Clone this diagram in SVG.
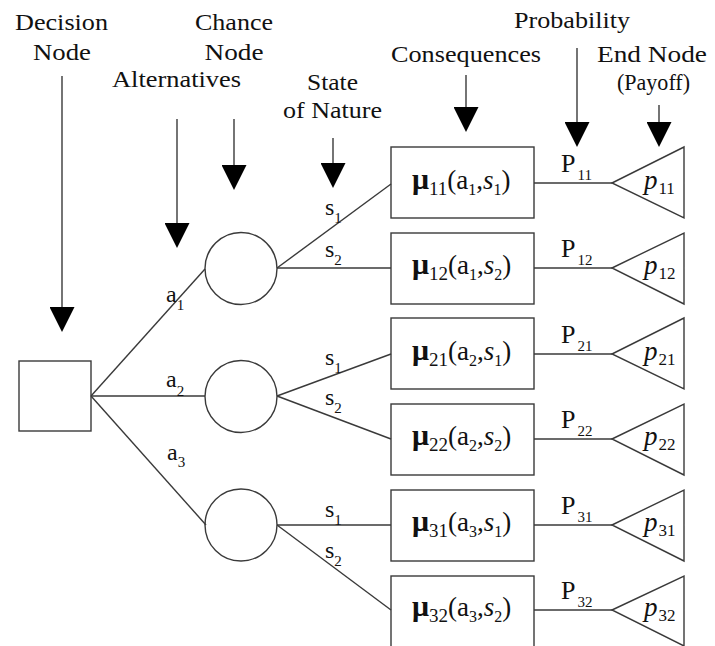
<svg xmlns="http://www.w3.org/2000/svg" width="715" height="646" viewBox="0 0 715 646">
<defs>
  <marker id="arrowhead-down" markerUnits="userSpaceOnUse" markerWidth="25" markerHeight="25" refX="0" refY="12.5" orient="auto" viewBox="0 0 25 25">
    <path d="M0,0 L25,12.5 L0,25 Z" fill="#000"/>
  </marker>
</defs>
<rect x="0" y="0" width="715" height="646" fill="#ffffff"/>

<g id="nodes" stroke="#3a3a3a" stroke-width="1.4" fill="#fff">
  <g id="decision-node"><rect x="19" y="361" width="72" height="70"/></g>
  <g id="chance-node-1"><circle cx="241" cy="268.5" r="36"/></g>
  <g id="chance-node-2"><circle cx="241" cy="396.5" r="36"/></g>
  <g id="chance-node-3"><circle cx="241" cy="525" r="36"/></g>
  <g id="consequence-11"><rect x="391" y="147" width="143" height="71"/></g>
  <g id="consequence-12"><rect x="391" y="233" width="143" height="71"/></g>
  <g id="consequence-21"><rect x="391" y="318" width="143" height="71"/></g>
  <g id="consequence-22"><rect x="391" y="404" width="143" height="71"/></g>
  <g id="consequence-31"><rect x="391" y="490" width="143" height="71"/></g>
  <g id="consequence-32"><rect x="391" y="576" width="143" height="71"/></g>
  <g id="end-node-11"><polygon points="612,183 684,147 684,218"/></g>
  <g id="end-node-12"><polygon points="612,268 684,233 684,304"/></g>
  <g id="end-node-21"><polygon points="612,354 684,318 684,389"/></g>
  <g id="end-node-22"><polygon points="612,439 684,404 684,475"/></g>
  <g id="end-node-31"><polygon points="612,525 684,490 684,561"/></g>
  <g id="end-node-32"><polygon points="612,610 684,576 684,646"/></g>
</g>

<g id="connectors" stroke="#3a3a3a" stroke-width="1.4" fill="none">
  <path d="M91,396 L205,269"/>
  <path d="M91,396 L205,396"/>
  <path d="M91,396 L206,525"/>
  <path d="M277,268 L391,184"/>
  <path d="M277,268 L391,268"/>
  <path d="M277,396 L391,354"/>
  <path d="M277,396 L391,439"/>
  <path d="M277,525 L391,525"/>
  <path d="M277,525 L391,610"/>
  <path d="M534,183 L612,183"/>
  <path d="M534,268 L612,268"/>
  <path d="M534,354 L612,354"/>
  <path d="M534,439 L612,439"/>
  <path d="M534,525 L612,525"/>
  <path d="M534,610 L612,610"/>
</g>

<g id="pointers" stroke="#3a3a3a" stroke-width="1.4" fill="none">
  <path d="M62,76 V307" marker-end="url(#arrowhead-down)"/>
  <path d="M177,119 V223" marker-end="url(#arrowhead-down)"/>
  <path d="M234,119 V165" marker-end="url(#arrowhead-down)"/>
  <path d="M333,138 V163" marker-end="url(#arrowhead-down)"/>
  <path d="M466,75 V107" marker-end="url(#arrowhead-down)"/>
  <path d="M577,48 V122" marker-end="url(#arrowhead-down)"/>
  <path d="M659,105 V122" marker-end="url(#arrowhead-down)"/>
</g>

<g id="pointer-labels" fill="#111" text-anchor="middle">
  <text font-family="Liberation Serif" font-size="23" x="61.5" y="30" textLength="93" lengthAdjust="spacingAndGlyphs">Decision</text>
  <text font-family="Liberation Serif" font-size="23" x="62" y="60" textLength="58" lengthAdjust="spacingAndGlyphs">Node</text>
  <text font-family="Liberation Serif" font-size="23" x="234" y="30" textLength="78" lengthAdjust="spacingAndGlyphs">Chance</text>
  <text font-family="Liberation Serif" font-size="23" x="234" y="60" textLength="59" lengthAdjust="spacingAndGlyphs">Node</text>
  <text font-family="Liberation Serif" font-size="23" x="176.5" y="87" textLength="129" lengthAdjust="spacingAndGlyphs">Alternatives</text>
  <text font-family="Liberation Serif" font-size="23" x="332.5" y="90" textLength="51" lengthAdjust="spacingAndGlyphs">State</text>
  <text font-family="Liberation Serif" font-size="23" x="332.5" y="118" textLength="99" lengthAdjust="spacingAndGlyphs">of Nature</text>
  <text font-family="Liberation Serif" font-size="23" x="466" y="62" textLength="150" lengthAdjust="spacingAndGlyphs">Consequences</text>
  <text font-family="Liberation Serif" font-size="23" x="572" y="28" textLength="116" lengthAdjust="spacingAndGlyphs">Probability</text>
  <text font-family="Liberation Serif" font-size="23" x="652" y="62" textLength="110" lengthAdjust="spacingAndGlyphs">End Node</text>
  <text font-family="Liberation Serif" font-size="23" x="653.5" y="90" textLength="73" lengthAdjust="spacingAndGlyphs">(Payoff)</text>
</g>

<g id="branch-labels" fill="#111">
  <text font-family="Liberation Serif" font-size="24" x="166" y="302">a<tspan font-size="15" dy="8">1</tspan></text>
  <text font-family="Liberation Serif" font-size="24" x="166" y="387">a<tspan font-size="15" dy="9">2</tspan></text>
  <text font-family="Liberation Serif" font-size="24" x="167" y="460">a<tspan font-size="15" dy="7">3</tspan></text>
  <text font-family="Liberation Serif" font-size="24" x="325" y="215">s<tspan font-size="15" dy="8">1</tspan></text>
  <text font-family="Liberation Serif" font-size="24" x="325" y="257">s<tspan font-size="15" dy="8">2</tspan></text>
  <text font-family="Liberation Serif" font-size="24" x="325" y="365">s<tspan font-size="15" dy="8">1</tspan></text>
  <text font-family="Liberation Serif" font-size="24" x="325" y="405">s<tspan font-size="15" dy="8">2</tspan></text>
  <text font-family="Liberation Serif" font-size="24" x="325" y="517">s<tspan font-size="15" dy="8">1</tspan></text>
  <text font-family="Liberation Serif" font-size="24" x="325" y="558">s<tspan font-size="15" dy="8">2</tspan></text>
  <text font-family="Liberation Serif" font-size="26" x="561" y="172">P<tspan font-size="15" dx="2" dy="8">11</tspan></text>
  <text font-family="Liberation Serif" font-size="26" x="561" y="257">P<tspan font-size="15" dx="2" dy="8">12</tspan></text>
  <text font-family="Liberation Serif" font-size="26" x="561" y="343">P<tspan font-size="15" dx="2" dy="8">21</tspan></text>
  <text font-family="Liberation Serif" font-size="26" x="561" y="428">P<tspan font-size="15" dx="2" dy="8">22</tspan></text>
  <text font-family="Liberation Serif" font-size="26" x="561" y="514">P<tspan font-size="15" dx="2" dy="8">31</tspan></text>
  <text font-family="Liberation Serif" font-size="26" x="561" y="599">P<tspan font-size="15" dx="2" dy="8">32</tspan></text>
</g>

<g id="consequence-labels" fill="#111">
  <text font-family="Liberation Serif" font-size="27" x="412" y="189"><tspan font-size="30" font-weight="bold">μ</tspan><tspan font-size="19" dy="6">11</tspan><tspan dy="-6">(a</tspan><tspan font-size="16" dy="6">1</tspan><tspan dy="-6">,</tspan><tspan font-style="italic">s</tspan><tspan font-size="16" dy="6">1</tspan><tspan dy="-6">)</tspan></text>
  <text font-family="Liberation Serif" font-size="27" x="412" y="274"><tspan font-size="30" font-weight="bold">μ</tspan><tspan font-size="19" dy="6">12</tspan><tspan dy="-6">(a</tspan><tspan font-size="16" dy="6">1</tspan><tspan dy="-6">,</tspan><tspan font-style="italic">s</tspan><tspan font-size="16" dy="6">2</tspan><tspan dy="-6">)</tspan></text>
  <text font-family="Liberation Serif" font-size="27" x="412" y="360"><tspan font-size="30" font-weight="bold">μ</tspan><tspan font-size="19" dy="6">21</tspan><tspan dy="-6">(a</tspan><tspan font-size="16" dy="6">2</tspan><tspan dy="-6">,</tspan><tspan font-style="italic">s</tspan><tspan font-size="16" dy="6">1</tspan><tspan dy="-6">)</tspan></text>
  <text font-family="Liberation Serif" font-size="27" x="412" y="445"><tspan font-size="30" font-weight="bold">μ</tspan><tspan font-size="19" dy="6">22</tspan><tspan dy="-6">(a</tspan><tspan font-size="16" dy="6">2</tspan><tspan dy="-6">,</tspan><tspan font-style="italic">s</tspan><tspan font-size="16" dy="6">2</tspan><tspan dy="-6">)</tspan></text>
  <text font-family="Liberation Serif" font-size="27" x="412" y="531"><tspan font-size="30" font-weight="bold">μ</tspan><tspan font-size="19" dy="6">31</tspan><tspan dy="-6">(a</tspan><tspan font-size="16" dy="6">3</tspan><tspan dy="-6">,</tspan><tspan font-style="italic">s</tspan><tspan font-size="16" dy="6">1</tspan><tspan dy="-6">)</tspan></text>
  <text font-family="Liberation Serif" font-size="27" x="412" y="616"><tspan font-size="30" font-weight="bold">μ</tspan><tspan font-size="19" dy="6">32</tspan><tspan dy="-6">(a</tspan><tspan font-size="16" dy="6">3</tspan><tspan dy="-6">,</tspan><tspan font-style="italic">s</tspan><tspan font-size="16" dy="6">2</tspan><tspan dy="-6">)</tspan></text>
</g>

<g id="payoff-labels" fill="#111">
  <text font-family="Liberation Serif" font-size="27" font-style="italic" x="644" y="189">p<tspan font-size="17" font-style="normal" dx="1" dy="5">11</tspan></text>
  <text font-family="Liberation Serif" font-size="27" font-style="italic" x="644" y="274">p<tspan font-size="17" font-style="normal" dx="1" dy="5">12</tspan></text>
  <text font-family="Liberation Serif" font-size="27" font-style="italic" x="644" y="360">p<tspan font-size="17" font-style="normal" dx="1" dy="5">21</tspan></text>
  <text font-family="Liberation Serif" font-size="27" font-style="italic" x="644" y="445">p<tspan font-size="17" font-style="normal" dx="1" dy="5">22</tspan></text>
  <text font-family="Liberation Serif" font-size="27" font-style="italic" x="644" y="531">p<tspan font-size="17" font-style="normal" dx="1" dy="5">31</tspan></text>
  <text font-family="Liberation Serif" font-size="27" font-style="italic" x="644" y="616">p<tspan font-size="17" font-style="normal" dx="1" dy="5">32</tspan></text>
</g>
</svg>
